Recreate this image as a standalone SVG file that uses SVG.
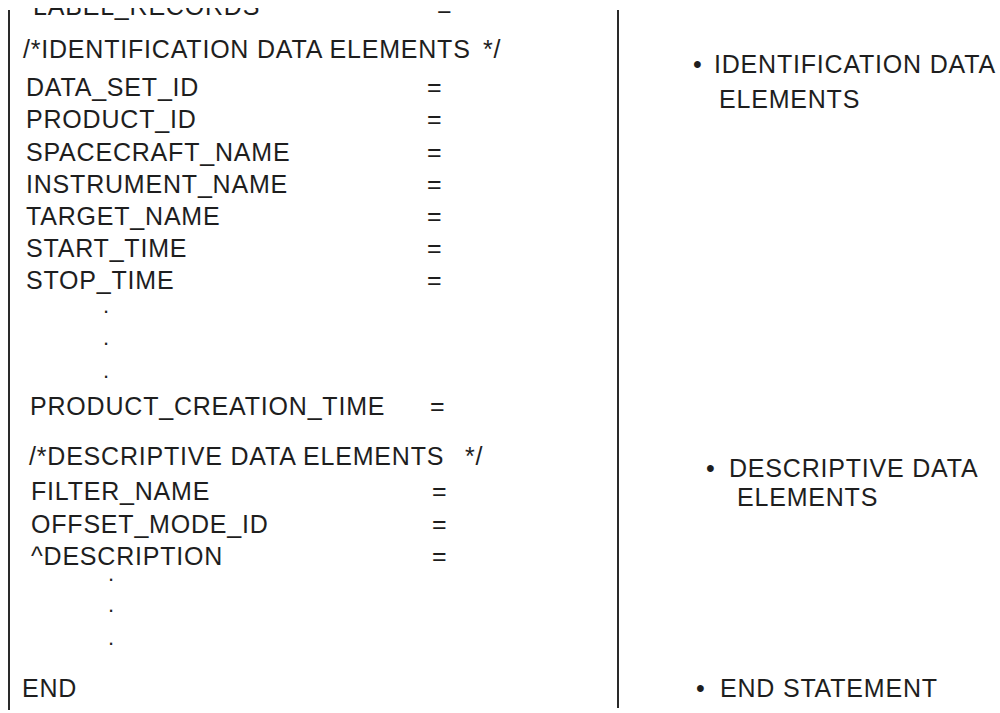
<svg xmlns="http://www.w3.org/2000/svg" width="1000" height="713" viewBox="0 0 1000 713">
<style>
text{font-family:"Liberation Sans",Arial,sans-serif;font-size:25px;letter-spacing:0.8px;fill:#1e1e1e}
.dot{font-size:22px;letter-spacing:0}
.rule{stroke:#2a2a2a;stroke-width:2;fill:none}
</style>
<defs>
<clipPath id="topcut"><rect x="0" y="8" width="1000" height="40"/></clipPath>
</defs>
<rect width="1000" height="713" fill="#ffffff"/>
<g id="connectors">
<line class="rule" x1="9" y1="10" x2="9" y2="710"/>
<line class="rule" x1="618" y1="10" x2="618" y2="708"/>
</g>
<g id="label-code">
<g clip-path="url(#topcut)">
<text x="33" y="14.5">LABEL_RECORDS</text><text x="437" y="17">=</text>
</g>
<text x="23" y="58">/*IDENTIFICATION DATA ELEMENTS <tspan x="483">*/</tspan></text>
<text x="26" y="96">DATA_SET_ID</text><text x="427" y="96">=</text>
<text x="26" y="128">PRODUCT_ID</text><text x="427" y="128">=</text>
<text x="26" y="160.5">SPACECRAFT_NAME</text><text x="427" y="160.5">=</text>
<text x="26" y="192.5">INSTRUMENT_NAME</text><text x="427" y="192.5">=</text>
<text x="26" y="224.5">TARGET_NAME</text><text x="427" y="224.5">=</text>
<text x="26" y="257">START_TIME</text><text x="427" y="257">=</text>
<text x="26" y="289">STOP_TIME</text><text x="427" y="289">=</text>
<text class="dot" x="103" y="313">.</text>
<text class="dot" x="103" y="345">.</text>
<text class="dot" x="103" y="378">.</text>
<text x="30" y="415">PRODUCT_CREATION_TIME</text><text x="430" y="415">=</text>
<text x="29" y="465">/*DESCRIPTIVE DATA ELEMENTS <tspan x="465">*/</tspan></text>
<text x="31" y="500">FILTER_NAME</text><text x="432" y="500">=</text>
<text x="31" y="533">OFFSET_MODE_ID</text><text x="432" y="533">=</text>
<text x="31" y="565">^DESCRIPTION</text><text x="432" y="565">=</text>
<text class="dot" x="108" y="581">.</text>
<text class="dot" x="108" y="612">.</text>
<text class="dot" x="108" y="645">.</text>
<text x="22" y="697">END</text>
</g>
<g id="note-identification">
<text x="693" y="73">•</text>
<text x="714" y="73">IDENTIFICATION DATA</text>
<text x="719" y="108">ELEMENTS</text>
</g>
<g id="note-descriptive">
<text x="706" y="477">•</text>
<text x="729" y="477">DESCRIPTIVE DATA</text>
<text x="737" y="506">ELEMENTS</text>
</g>
<g id="note-end">
<text x="696" y="697">•</text>
<text x="720" y="697">END STATEMENT</text>
</g>
</svg>
